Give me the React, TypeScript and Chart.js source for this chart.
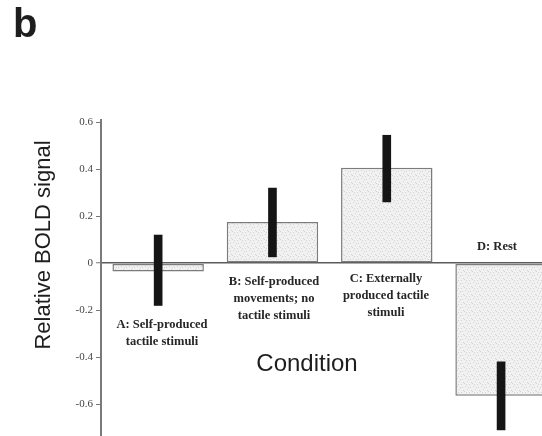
import React, { useEffect, useRef } from "react";
import { Chart, registerables } from "chart.js";

Chart.register(...registerables);

// ---- data ----
const categories = ["A", "B", "C", "D"];
const categoryLabels: string[][] = [
  ["A: Self-produced", "tactile stimuli"],
  ["B: Self-produced", "movements; no", "tactile stimuli"],
  ["C: Externally", "produced tactile", "stimuli"],
  ["D: Rest"],
];
const meanValues = [-0.035, 0.176, 0.407, -0.565];
const errorLow = [-0.18, 0.027, 0.261, -0.71];
const errorHigh = [0.12, 0.32, 0.545, -0.42];
const yTicks = [0.6, 0.4, 0.2, 0, -0.2, -0.4, -0.6];
const yTickLabels = ["0.6", "0.4", "0.2", "0", "-0.2", "-0.4", "-0.6"];
const yTitle = "Relative BOLD signal";
const xTitle = "Condition";
const panelLetter = "b";

// label layout (per category): [centerX, firstLineY]
const labelAnchors: number[][] = [
  [162, 325],
  [274, 282],
  [386, 279],
  [497, 247],
];

function makePattern(): CanvasPattern | string {
  const c = document.createElement("canvas");
  c.width = 8;
  c.height = 8;
  const g = c.getContext("2d");
  if (!g) return "#efefef";
  g.fillStyle = "#f1f1f1";
  g.fillRect(0, 0, 8, 8);
  g.fillStyle = "#d2d2d2";
  const dots = [[1, 2], [5, 0], [3, 5], [7, 6], [0, 7], [6, 3], [2, 0], [4, 3]];
  dots.forEach(([x, y]) => g.fillRect(x, y, 1, 1));
  const p = g.createPattern(c, "repeat");
  return p || "#efefef";
}

const textPlugin = {
  id: "textPlugin",
  afterDraw(chart: any) {
    const ctx = chart.ctx;
    ctx.save();
    ctx.fillStyle = "#1e1e1e";
    // panel letter
    ctx.font = "bold 40px 'Liberation Sans', Arial, sans-serif";
    ctx.textAlign = "left";
    ctx.textBaseline = "alphabetic";
    ctx.fillText(panelLetter, 13, 37);
    // y title
    ctx.save();
    ctx.translate(44, 245);
    ctx.rotate(-Math.PI / 2);
    ctx.font = "22px 'Liberation Sans', Arial, sans-serif";
    ctx.textAlign = "center";
    ctx.textBaseline = "middle";
    ctx.fillText(yTitle, 0, 0);
    ctx.restore();
    // x title
    ctx.font = "24px 'Liberation Sans', Arial, sans-serif";
    ctx.textAlign = "center";
    ctx.textBaseline = "middle";
    ctx.fillText(xTitle, 307, 364);
    // category labels
    ctx.font = "bold 12.5px 'Liberation Serif', 'Times New Roman', serif";
    ctx.fillStyle = "#262626";
    categoryLabels.forEach((lines, i) => {
      const [cx, cy] = labelAnchors[i];
      lines.forEach((line, j) => ctx.fillText(line, cx, cy + j * 17));
    });
    ctx.restore();
  },
};

export default function App() {
  const ref = useRef<HTMLCanvasElement>(null);
  useEffect(() => {
    if (!ref.current) return;
    const pattern = makePattern();
    const chart = new Chart(ref.current, {
      type: "bar",
      data: {
        datasets: [
          {
            label: "error",
            data: categories.map((_, i) => ({ x: i, y: [errorLow[i], errorHigh[i]] })) as any,
            backgroundColor: "#151515",
            borderWidth: 0,
            barThickness: 8,
            grouped: false,
            order: 0,
          } as any,
          {
            label: "mean",
            data: categories.map((_, i) => ({ x: i, y: meanValues[i] })) as any,
            backgroundColor: pattern as any,
            borderColor: "#7c7c7c",
            borderWidth: 1.5,
            borderSkipped: false,
            barPercentage: 0.8,
            categoryPercentage: 1,
            order: 1,
          } as any,
        ],
      },
      options: {
        animation: false,
        responsive: false,
        devicePixelRatio: 1,
        layout: { padding: { top: 120, left: 0, right: 0, bottom: 0 } },
        plugins: { legend: { display: false }, tooltip: { enabled: false } },
        scales: {
          x: {
            type: "linear",
            display: false,
            offset: false,
            min: -0.5,
            max: 3.358,
            afterBuildTicks: (scale: any) => {
              scale.ticks = categories.map((_, i) => ({ value: i }));
            },
          },
          y: {
            type: "linear",
            min: -0.736,
            max: 0.61,
            afterBuildTicks: (scale: any) => {
              scale.ticks = yTicks.map((v) => ({ value: v }));
            },
            afterFit: (scale: any) => {
              scale.width = 101;
              scale.paddingTop = 0;
              scale.paddingBottom = 0;
            },
            border: { display: true, color: "#7a7a7a", width: 2 },
            grid: {
              drawOnChartArea: true,
              color: (c: any) => (c.tick && c.tick.value === 0 ? "#5a5a5a" : "rgba(0,0,0,0)"),
              lineWidth: (c: any) => (c.tick && c.tick.value === 0 ? 1.5 : 1),
              tickColor: "#777",
              tickLength: 5,
              tickWidth: 1,
            },
            ticks: {
              padding: 3,
              color: "#444",
              font: { family: "'Liberation Serif', 'Times New Roman', serif", size: 11 },
              callback: (v: any) => {
                const i = yTicks.findIndex((t) => Math.abs(t - Number(v)) < 1e-9);
                return i >= 0 ? yTickLabels[i] : "";
              },
            },
          },
        },
      } as any,
      plugins: [textPlugin],
    });
    return () => chart.destroy();
  }, []);
  return (
    <div style={{ position: "absolute", left: 0, top: 0, width: 542, height: 436, background: "#fff" }}>
      <canvas ref={ref} width={542} height={436} style={{ display: "block" }} />
    </div>
  );
}
